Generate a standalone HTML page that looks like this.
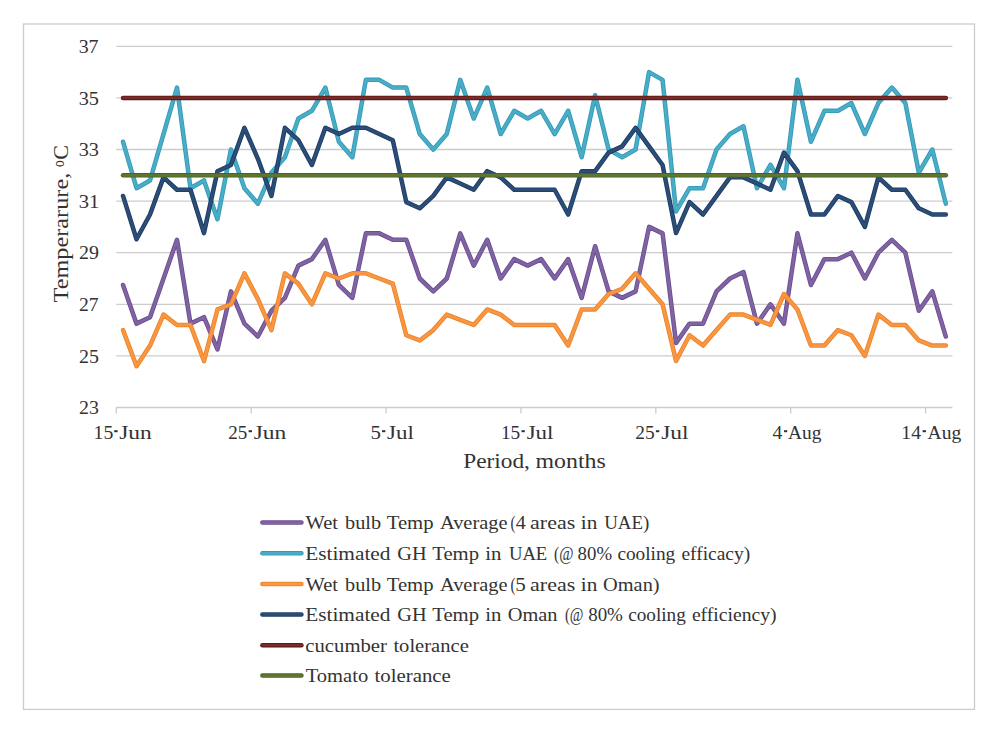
<!DOCTYPE html>
<html><head><meta charset="utf-8"><title>Chart</title>
<style>
html,body{margin:0;padding:0;background:#fff;}
body{width:1000px;height:733px;overflow:hidden;font-family:"Liberation Serif",serif;}
svg{display:block;}
text{font-family:"Liberation Serif",serif;fill:#333333;}
</style></head><body>
<svg width="1000" height="733" viewBox="0 0 1000 733">
<rect x="0" y="0" width="1000" height="733" fill="#ffffff"/>

<rect x="23.5" y="24" width="951" height="685.4" fill="#fff" stroke="#CCCCCC" stroke-width="1.3"/>
<line x1="116.3" x2="952.4" y1="355.90" y2="355.90" stroke="#CCCCCC" stroke-width="1.3"/>
<line x1="116.3" x2="952.4" y1="304.30" y2="304.30" stroke="#CCCCCC" stroke-width="1.3"/>
<line x1="116.3" x2="952.4" y1="252.70" y2="252.70" stroke="#CCCCCC" stroke-width="1.3"/>
<line x1="116.3" x2="952.4" y1="201.10" y2="201.10" stroke="#CCCCCC" stroke-width="1.3"/>
<line x1="116.3" x2="952.4" y1="149.50" y2="149.50" stroke="#CCCCCC" stroke-width="1.3"/>
<line x1="116.3" x2="952.4" y1="97.90" y2="97.90" stroke="#CCCCCC" stroke-width="1.3"/>
<line x1="116.3" x2="952.4" y1="46.30" y2="46.30" stroke="#CCCCCC" stroke-width="1.3"/>
<line x1="116.3" x2="952.4" y1="407.5" y2="407.5" stroke="#CCCCCC" stroke-width="1.3"/>
<line x1="116.30" x2="116.30" y1="407.5" y2="413.5" stroke="#CCCCCC" stroke-width="1.3"/>
<line x1="251.18" x2="251.18" y1="407.5" y2="413.5" stroke="#CCCCCC" stroke-width="1.3"/>
<line x1="386.06" x2="386.06" y1="407.5" y2="413.5" stroke="#CCCCCC" stroke-width="1.3"/>
<line x1="520.94" x2="520.94" y1="407.5" y2="413.5" stroke="#CCCCCC" stroke-width="1.3"/>
<line x1="655.82" x2="655.82" y1="407.5" y2="413.5" stroke="#CCCCCC" stroke-width="1.3"/>
<line x1="790.70" x2="790.70" y1="407.5" y2="413.5" stroke="#CCCCCC" stroke-width="1.3"/>
<line x1="925.58" x2="925.58" y1="407.5" y2="413.5" stroke="#CCCCCC" stroke-width="1.3"/>
<text transform="translate(305.50,529.40) scale(1.0766,1)" font-size="19.0">Wet</text>
<text transform="translate(345.00,529.40) scale(1.0698,1)" font-size="19.0">bulb</text>
<text transform="translate(386.68,529.40) scale(1.0926,1)" font-size="19.0">Temp</text>
<text transform="translate(440.00,529.40) scale(1.0717,1)" font-size="19.0">Average</text>
<text transform="translate(510.53,529.40) scale(0.7860,1)" font-size="19.0">(</text>
<text transform="translate(515.69,529.40) scale(1.0554,1)" font-size="19.0">4</text>
<text transform="translate(530.11,529.40) scale(1.1569,1)" font-size="19.0">areas</text>
<text transform="translate(580.87,529.40) scale(1.1186,1)" font-size="19.0">in</text>
<text transform="translate(604.20,529.40) scale(0.9957,1)" font-size="19.0">UAE)</text>
<text transform="translate(305.17,560.10) scale(1.1231,1)" font-size="19.0">Estimated</text>
<text transform="translate(397.37,560.10) scale(1.0685,1)" font-size="19.0">GH</text>
<text transform="translate(432.18,560.10) scale(1.0926,1)" font-size="19.0">Temp</text>
<text transform="translate(485.18,560.10) scale(1.0910,1)" font-size="19.0">in</text>
<text transform="translate(508.91,560.10) scale(0.9833,1)" font-size="19.0">UAE</text>
<text transform="translate(554.12,560.10) scale(0.8140,1)" font-size="19.0">(@</text>
<text transform="translate(577.61,560.10) scale(0.9913,1)" font-size="19.0">80%</text>
<text transform="translate(617.40,560.10) scale(1.0160,1)" font-size="19.0">cooling</text>
<text transform="translate(681.39,560.10) scale(1.0248,1)" font-size="19.0">efficacy)</text>
<text transform="translate(305.50,590.80) scale(1.0766,1)" font-size="19.0">Wet</text>
<text transform="translate(345.00,590.80) scale(1.0698,1)" font-size="19.0">bulb</text>
<text transform="translate(386.68,590.80) scale(1.0926,1)" font-size="19.0">Temp</text>
<text transform="translate(440.00,590.80) scale(1.0717,1)" font-size="19.0">Average</text>
<text transform="translate(510.53,590.80) scale(0.7860,1)" font-size="19.0">(</text>
<text transform="translate(515.31,590.80) scale(1.1103,1)" font-size="19.0">5</text>
<text transform="translate(530.11,590.80) scale(1.1569,1)" font-size="19.0">areas</text>
<text transform="translate(580.87,590.80) scale(1.1186,1)" font-size="19.0">in</text>
<text transform="translate(603.11,590.80) scale(1.0713,1)" font-size="19.0">Oman)</text>
<text transform="translate(305.17,621.20) scale(1.1231,1)" font-size="19.0">Estimated</text>
<text transform="translate(397.37,621.20) scale(1.0685,1)" font-size="19.0">GH</text>
<text transform="translate(432.18,621.20) scale(1.0926,1)" font-size="19.0">Temp</text>
<text transform="translate(485.18,621.20) scale(1.0910,1)" font-size="19.0">in</text>
<text transform="translate(507.76,621.20) scale(1.0733,1)" font-size="19.0">Oman</text>
<text transform="translate(564.94,621.20) scale(0.7782,1)" font-size="19.0">(@</text>
<text transform="translate(588.16,621.20) scale(0.9972,1)" font-size="19.0">80%</text>
<text transform="translate(628.15,621.20) scale(1.0116,1)" font-size="19.0">cooling</text>
<text transform="translate(691.89,621.20) scale(1.0354,1)" font-size="19.0">efficiency)</text>
<text transform="translate(305.35,652.00) scale(1.0887,1)" font-size="19.0">cucumber</text>
<text transform="translate(393.40,652.00) scale(1.0838,1)" font-size="19.0">tolerance</text>
<text transform="translate(305.68,682.40) scale(1.0830,1)" font-size="19.0">Tomato</text>
<text transform="translate(374.50,682.40) scale(1.0968,1)" font-size="19.0">tolerance</text>
<text transform="translate(93.56,438.50) scale(1.0186,1)" font-size="19.4">15</text>
<text transform="translate(119.23,438.50) scale(1.2084,1)" font-size="19.4">Jun</text>
<text transform="translate(228.20,438.50) scale(0.9842,1)" font-size="19.4">25</text>
<text transform="translate(253.63,438.50) scale(1.2084,1)" font-size="19.4">Jun</text>
<text transform="translate(370.62,438.50) scale(1.0752,1)" font-size="19.4">5</text>
<text transform="translate(386.94,438.50) scale(1.1855,1)" font-size="19.4">Jul</text>
<text transform="translate(500.89,438.50) scale(0.9955,1)" font-size="19.4">15</text>
<text transform="translate(526.64,438.50) scale(1.1855,1)" font-size="19.4">Jul</text>
<text transform="translate(635.19,438.50) scale(1.0007,1)" font-size="19.4">25</text>
<text transform="translate(661.23,438.50) scale(1.2082,1)" font-size="19.4">Jul</text>
<text transform="translate(772.59,438.50) scale(1.0117,1)" font-size="19.4">4</text>
<text transform="translate(788.00,438.50) scale(1.0028,1)" font-size="19.4">Aug</text>
<text transform="translate(901.37,438.50) scale(1.0124,1)" font-size="19.4">14</text>
<text transform="translate(927.60,438.50) scale(1.0089,1)" font-size="19.4">Aug</text>
<text transform="translate(78.98,414.10) scale(1.0282,1)" font-size="19.4">23</text>
<text transform="translate(78.98,362.50) scale(1.0282,1)" font-size="19.4">25</text>
<text transform="translate(78.99,310.90) scale(1.0113,1)" font-size="19.4">27</text>
<text transform="translate(78.98,259.30) scale(1.0282,1)" font-size="19.4">29</text>
<text transform="translate(78.63,207.70) scale(1.0636,1)" font-size="19.4">31</text>
<text transform="translate(78.65,156.10) scale(1.0456,1)" font-size="19.4">33</text>
<text transform="translate(78.65,104.50) scale(1.0456,1)" font-size="19.4">35</text>
<text transform="translate(78.66,52.90) scale(1.0282,1)" font-size="19.4">37</text>
<text transform="translate(463.24,468.00) scale(1.1106,1)" font-size="21">Period,</text>
<text transform="translate(535.53,468.00) scale(1.1349,1)" font-size="21">months</text>
<text transform="translate(68.3,0) rotate(-90) translate(-302.48,0) scale(1.1042,1)" font-size="22">Temperarure,</text>
<text transform="translate(73.6,0) rotate(-90) translate(-166.93,0) scale(0.7758,1)" font-size="27.5">º</text>
<text transform="translate(68.3,0) rotate(-90) translate(-159.69,0) scale(1.0029,1)" font-size="22">C</text>
<rect x="114.20" y="430.2" width="3.40" height="2.0" fill="#333333"/>
<rect x="248.60" y="430.2" width="3.40" height="2.0" fill="#333333"/>
<rect x="382.00" y="430.2" width="3.40" height="2.0" fill="#333333"/>
<rect x="521.50" y="430.2" width="3.30" height="2.0" fill="#333333"/>
<rect x="655.90" y="430.2" width="3.40" height="2.0" fill="#333333"/>
<rect x="784.00" y="430.2" width="3.20" height="2.0" fill="#333333"/>
<rect x="922.60" y="430.2" width="3.40" height="2.0" fill="#333333"/>
<polyline points="123.04,284.95 136.53,323.65 150.02,317.20 163.51,278.50 177.00,239.80 190.48,323.65 203.97,317.20 217.46,349.45 230.95,291.40 244.44,323.65 257.92,336.55 271.41,310.75 284.90,297.85 298.39,265.60 311.88,259.15 325.36,239.80 338.85,284.95 352.34,297.85 365.83,233.35 379.32,233.35 392.80,239.80 406.29,239.80 419.78,278.50 433.27,291.40 446.76,278.50 460.24,233.35 473.73,265.60 487.22,239.80 500.71,278.50 514.20,259.15 527.68,265.60 541.17,259.15 554.66,278.50 568.15,259.15 581.64,297.85 595.12,246.25 608.61,291.40 622.10,297.85 635.59,291.40 649.08,226.90 662.56,233.35 676.05,343.00 689.54,323.65 703.03,323.65 716.52,291.40 730.00,278.50 743.49,272.05 756.98,323.65 770.47,304.30 783.96,323.65 797.44,233.35 810.93,284.95 824.42,259.15 837.91,259.15 851.40,252.70 864.88,278.50 878.37,252.70 891.86,239.80 905.35,252.70 918.84,310.75 932.32,291.40 945.81,336.55" fill="none" stroke="#6B4C93" stroke-width="4.5" stroke-linecap="round" stroke-linejoin="round"/><polyline points="123.04,284.95 136.53,323.65 150.02,317.20 163.51,278.50 177.00,239.80 190.48,323.65 203.97,317.20 217.46,349.45 230.95,291.40 244.44,323.65 257.92,336.55 271.41,310.75 284.90,297.85 298.39,265.60 311.88,259.15 325.36,239.80 338.85,284.95 352.34,297.85 365.83,233.35 379.32,233.35 392.80,239.80 406.29,239.80 419.78,278.50 433.27,291.40 446.76,278.50 460.24,233.35 473.73,265.60 487.22,239.80 500.71,278.50 514.20,259.15 527.68,265.60 541.17,259.15 554.66,278.50 568.15,259.15 581.64,297.85 595.12,246.25 608.61,291.40 622.10,297.85 635.59,291.40 649.08,226.90 662.56,233.35 676.05,343.00 689.54,323.65 703.03,323.65 716.52,291.40 730.00,278.50 743.49,272.05 756.98,323.65 770.47,304.30 783.96,323.65 797.44,233.35 810.93,284.95 824.42,259.15 837.91,259.15 851.40,252.70 864.88,278.50 878.37,252.70 891.86,239.80 905.35,252.70 918.84,310.75 932.32,291.40 945.81,336.55" fill="none" stroke="#8064A2" stroke-width="2.80" stroke-linecap="round" stroke-linejoin="round"/>
<polyline points="123.04,141.76 136.53,188.20 150.02,180.46 163.51,134.02 177.00,87.58 190.48,188.20 203.97,180.46 217.46,219.16 230.95,149.50 244.44,188.20 257.92,203.68 271.41,172.72 284.90,157.24 298.39,118.54 311.88,110.80 325.36,87.58 338.85,141.76 352.34,157.24 365.83,79.84 379.32,79.84 392.80,87.58 406.29,87.58 419.78,134.02 433.27,149.50 446.76,134.02 460.24,79.84 473.73,118.54 487.22,87.58 500.71,134.02 514.20,110.80 527.68,118.54 541.17,110.80 554.66,134.02 568.15,110.80 581.64,157.24 595.12,95.32 608.61,149.50 622.10,157.24 635.59,149.50 649.08,72.10 662.56,79.84 676.05,211.42 689.54,188.20 703.03,188.20 716.52,149.50 730.00,134.02 743.49,126.28 756.98,188.20 770.47,164.98 783.96,188.20 797.44,79.84 810.93,141.76 824.42,110.80 837.91,110.80 851.40,103.06 864.88,134.02 878.37,103.06 891.86,87.58 905.35,103.06 918.84,172.72 932.32,149.50 945.81,203.68" fill="none" stroke="#2F9BB9" stroke-width="4.5" stroke-linecap="round" stroke-linejoin="round"/><polyline points="123.04,141.76 136.53,188.20 150.02,180.46 163.51,134.02 177.00,87.58 190.48,188.20 203.97,180.46 217.46,219.16 230.95,149.50 244.44,188.20 257.92,203.68 271.41,172.72 284.90,157.24 298.39,118.54 311.88,110.80 325.36,87.58 338.85,141.76 352.34,157.24 365.83,79.84 379.32,79.84 392.80,87.58 406.29,87.58 419.78,134.02 433.27,149.50 446.76,134.02 460.24,79.84 473.73,118.54 487.22,87.58 500.71,134.02 514.20,110.80 527.68,118.54 541.17,110.80 554.66,134.02 568.15,110.80 581.64,157.24 595.12,95.32 608.61,149.50 622.10,157.24 635.59,149.50 649.08,72.10 662.56,79.84 676.05,211.42 689.54,188.20 703.03,188.20 716.52,149.50 730.00,134.02 743.49,126.28 756.98,188.20 770.47,164.98 783.96,188.20 797.44,79.84 810.93,141.76 824.42,110.80 837.91,110.80 851.40,103.06 864.88,134.02 878.37,103.06 891.86,87.58 905.35,103.06 918.84,172.72 932.32,149.50 945.81,203.68" fill="none" stroke="#4BACC6" stroke-width="2.80" stroke-linecap="round" stroke-linejoin="round"/>
<polyline points="123.04,330.10 136.53,366.22 150.02,345.58 163.51,314.62 177.00,324.94 190.48,324.94 203.97,361.06 217.46,309.46 230.95,304.30 244.44,273.34 257.92,299.14 271.41,330.10 284.90,273.34 298.39,283.66 311.88,304.30 325.36,273.34 338.85,278.50 352.34,273.34 365.83,273.34 379.32,278.50 392.80,283.66 406.29,335.26 419.78,340.42 433.27,330.10 446.76,314.62 460.24,319.78 473.73,324.94 487.22,309.46 500.71,314.62 514.20,324.94 527.68,324.94 541.17,324.94 554.66,324.94 568.15,345.58 581.64,309.46 595.12,309.46 608.61,293.98 622.10,288.82 635.59,273.34 649.08,288.82 662.56,304.30 676.05,361.06 689.54,335.26 703.03,345.58 716.52,330.10 730.00,314.62 743.49,314.62 756.98,319.78 770.47,324.94 783.96,293.98 797.44,309.46 810.93,345.58 824.42,345.58 837.91,330.10 851.40,335.26 864.88,355.90 878.37,314.62 891.86,324.94 905.35,324.94 918.84,340.42 932.32,345.58 945.81,345.58" fill="none" stroke="#F0831F" stroke-width="4.5" stroke-linecap="round" stroke-linejoin="round"/><polyline points="123.04,330.10 136.53,366.22 150.02,345.58 163.51,314.62 177.00,324.94 190.48,324.94 203.97,361.06 217.46,309.46 230.95,304.30 244.44,273.34 257.92,299.14 271.41,330.10 284.90,273.34 298.39,283.66 311.88,304.30 325.36,273.34 338.85,278.50 352.34,273.34 365.83,273.34 379.32,278.50 392.80,283.66 406.29,335.26 419.78,340.42 433.27,330.10 446.76,314.62 460.24,319.78 473.73,324.94 487.22,309.46 500.71,314.62 514.20,324.94 527.68,324.94 541.17,324.94 554.66,324.94 568.15,345.58 581.64,309.46 595.12,309.46 608.61,293.98 622.10,288.82 635.59,273.34 649.08,288.82 662.56,304.30 676.05,361.06 689.54,335.26 703.03,345.58 716.52,330.10 730.00,314.62 743.49,314.62 756.98,319.78 770.47,324.94 783.96,293.98 797.44,309.46 810.93,345.58 824.42,345.58 837.91,330.10 851.40,335.26 864.88,355.90 878.37,314.62 891.86,324.94 905.35,324.94 918.84,340.42 932.32,345.58 945.81,345.58" fill="none" stroke="#F79646" stroke-width="2.80" stroke-linecap="round" stroke-linejoin="round"/>
<polyline points="123.04,195.94 136.53,239.28 150.02,214.52 163.51,177.36 177.00,189.75 190.48,189.75 203.97,233.09 217.46,171.17 230.95,164.98 244.44,127.83 257.92,158.79 271.41,195.94 284.90,127.83 298.39,140.21 311.88,164.98 325.36,127.83 338.85,134.02 352.34,127.83 365.83,127.83 379.32,134.02 392.80,140.21 406.29,202.13 419.78,208.32 433.27,195.94 446.76,177.36 460.24,183.56 473.73,189.75 487.22,171.17 500.71,177.36 514.20,189.75 527.68,189.75 541.17,189.75 554.66,189.75 568.15,214.52 581.64,171.17 595.12,171.17 608.61,152.60 622.10,146.40 635.59,127.83 649.08,146.40 662.56,164.98 676.05,233.09 689.54,202.13 703.03,214.52 716.52,195.94 730.00,177.36 743.49,177.36 756.98,183.56 770.47,189.75 783.96,152.60 797.44,171.17 810.93,214.52 824.42,214.52 837.91,195.94 851.40,202.13 864.88,226.90 878.37,177.36 891.86,189.75 905.35,189.75 918.84,208.32 932.32,214.52 945.81,214.52" fill="none" stroke="#1B3C66" stroke-width="4.5" stroke-linecap="round" stroke-linejoin="round"/><polyline points="123.04,195.94 136.53,239.28 150.02,214.52 163.51,177.36 177.00,189.75 190.48,189.75 203.97,233.09 217.46,171.17 230.95,164.98 244.44,127.83 257.92,158.79 271.41,195.94 284.90,127.83 298.39,140.21 311.88,164.98 325.36,127.83 338.85,134.02 352.34,127.83 365.83,127.83 379.32,134.02 392.80,140.21 406.29,202.13 419.78,208.32 433.27,195.94 446.76,177.36 460.24,183.56 473.73,189.75 487.22,171.17 500.71,177.36 514.20,189.75 527.68,189.75 541.17,189.75 554.66,189.75 568.15,214.52 581.64,171.17 595.12,171.17 608.61,152.60 622.10,146.40 635.59,127.83 649.08,146.40 662.56,164.98 676.05,233.09 689.54,202.13 703.03,214.52 716.52,195.94 730.00,177.36 743.49,177.36 756.98,183.56 770.47,189.75 783.96,152.60 797.44,171.17 810.93,214.52 824.42,214.52 837.91,195.94 851.40,202.13 864.88,226.90 878.37,177.36 891.86,189.75 905.35,189.75 918.84,208.32 932.32,214.52 945.81,214.52" fill="none" stroke="#2C4D75" stroke-width="2.80" stroke-linecap="round" stroke-linejoin="round"/>
<polyline points="123.04,97.90 136.53,97.90 150.02,97.90 163.51,97.90 177.00,97.90 190.48,97.90 203.97,97.90 217.46,97.90 230.95,97.90 244.44,97.90 257.92,97.90 271.41,97.90 284.90,97.90 298.39,97.90 311.88,97.90 325.36,97.90 338.85,97.90 352.34,97.90 365.83,97.90 379.32,97.90 392.80,97.90 406.29,97.90 419.78,97.90 433.27,97.90 446.76,97.90 460.24,97.90 473.73,97.90 487.22,97.90 500.71,97.90 514.20,97.90 527.68,97.90 541.17,97.90 554.66,97.90 568.15,97.90 581.64,97.90 595.12,97.90 608.61,97.90 622.10,97.90 635.59,97.90 649.08,97.90 662.56,97.90 676.05,97.90 689.54,97.90 703.03,97.90 716.52,97.90 730.00,97.90 743.49,97.90 756.98,97.90 770.47,97.90 783.96,97.90 797.44,97.90 810.93,97.90 824.42,97.90 837.91,97.90 851.40,97.90 864.88,97.90 878.37,97.90 891.86,97.90 905.35,97.90 918.84,97.90 932.32,97.90 945.81,97.90" fill="none" stroke="#5E1211" stroke-width="4.5" stroke-linecap="round" stroke-linejoin="round"/><polyline points="123.04,97.90 136.53,97.90 150.02,97.90 163.51,97.90 177.00,97.90 190.48,97.90 203.97,97.90 217.46,97.90 230.95,97.90 244.44,97.90 257.92,97.90 271.41,97.90 284.90,97.90 298.39,97.90 311.88,97.90 325.36,97.90 338.85,97.90 352.34,97.90 365.83,97.90 379.32,97.90 392.80,97.90 406.29,97.90 419.78,97.90 433.27,97.90 446.76,97.90 460.24,97.90 473.73,97.90 487.22,97.90 500.71,97.90 514.20,97.90 527.68,97.90 541.17,97.90 554.66,97.90 568.15,97.90 581.64,97.90 595.12,97.90 608.61,97.90 622.10,97.90 635.59,97.90 649.08,97.90 662.56,97.90 676.05,97.90 689.54,97.90 703.03,97.90 716.52,97.90 730.00,97.90 743.49,97.90 756.98,97.90 770.47,97.90 783.96,97.90 797.44,97.90 810.93,97.90 824.42,97.90 837.91,97.90 851.40,97.90 864.88,97.90 878.37,97.90 891.86,97.90 905.35,97.90 918.84,97.90 932.32,97.90 945.81,97.90" fill="none" stroke="#772C2A" stroke-width="2.80" stroke-linecap="round" stroke-linejoin="round"/>
<polyline points="123.04,175.30 136.53,175.30 150.02,175.30 163.51,175.30 177.00,175.30 190.48,175.30 203.97,175.30 217.46,175.30 230.95,175.30 244.44,175.30 257.92,175.30 271.41,175.30 284.90,175.30 298.39,175.30 311.88,175.30 325.36,175.30 338.85,175.30 352.34,175.30 365.83,175.30 379.32,175.30 392.80,175.30 406.29,175.30 419.78,175.30 433.27,175.30 446.76,175.30 460.24,175.30 473.73,175.30 487.22,175.30 500.71,175.30 514.20,175.30 527.68,175.30 541.17,175.30 554.66,175.30 568.15,175.30 581.64,175.30 595.12,175.30 608.61,175.30 622.10,175.30 635.59,175.30 649.08,175.30 662.56,175.30 676.05,175.30 689.54,175.30 703.03,175.30 716.52,175.30 730.00,175.30 743.49,175.30 756.98,175.30 770.47,175.30 783.96,175.30 797.44,175.30 810.93,175.30 824.42,175.30 837.91,175.30 851.40,175.30 864.88,175.30 878.37,175.30 891.86,175.30 905.35,175.30 918.84,175.30 932.32,175.30 945.81,175.30" fill="none" stroke="#4B6320" stroke-width="4.5" stroke-linecap="round" stroke-linejoin="round"/><polyline points="123.04,175.30 136.53,175.30 150.02,175.30 163.51,175.30 177.00,175.30 190.48,175.30 203.97,175.30 217.46,175.30 230.95,175.30 244.44,175.30 257.92,175.30 271.41,175.30 284.90,175.30 298.39,175.30 311.88,175.30 325.36,175.30 338.85,175.30 352.34,175.30 365.83,175.30 379.32,175.30 392.80,175.30 406.29,175.30 419.78,175.30 433.27,175.30 446.76,175.30 460.24,175.30 473.73,175.30 487.22,175.30 500.71,175.30 514.20,175.30 527.68,175.30 541.17,175.30 554.66,175.30 568.15,175.30 581.64,175.30 595.12,175.30 608.61,175.30 622.10,175.30 635.59,175.30 649.08,175.30 662.56,175.30 676.05,175.30 689.54,175.30 703.03,175.30 716.52,175.30 730.00,175.30 743.49,175.30 756.98,175.30 770.47,175.30 783.96,175.30 797.44,175.30 810.93,175.30 824.42,175.30 837.91,175.30 851.40,175.30 864.88,175.30 878.37,175.30 891.86,175.30 905.35,175.30 918.84,175.30 932.32,175.30 945.81,175.30" fill="none" stroke="#5F7530" stroke-width="2.80" stroke-linecap="round" stroke-linejoin="round"/>
<line x1="262.4" x2="301.4" y1="522.6" y2="522.6" stroke="#6B4C93" stroke-width="4.5" stroke-linecap="round"/>
<line x1="262.4" x2="301.4" y1="522.6" y2="522.6" stroke="#8064A2" stroke-width="2.80" stroke-linecap="round"/>
<line x1="262.4" x2="301.4" y1="553.3" y2="553.3" stroke="#2F9BB9" stroke-width="4.5" stroke-linecap="round"/>
<line x1="262.4" x2="301.4" y1="553.3" y2="553.3" stroke="#4BACC6" stroke-width="2.80" stroke-linecap="round"/>
<line x1="262.4" x2="301.4" y1="584.0" y2="584.0" stroke="#F0831F" stroke-width="4.5" stroke-linecap="round"/>
<line x1="262.4" x2="301.4" y1="584.0" y2="584.0" stroke="#F79646" stroke-width="2.80" stroke-linecap="round"/>
<line x1="262.4" x2="301.4" y1="614.4" y2="614.4" stroke="#1B3C66" stroke-width="4.5" stroke-linecap="round"/>
<line x1="262.4" x2="301.4" y1="614.4" y2="614.4" stroke="#2C4D75" stroke-width="2.80" stroke-linecap="round"/>
<line x1="262.4" x2="301.4" y1="645.2" y2="645.2" stroke="#5E1211" stroke-width="4.5" stroke-linecap="round"/>
<line x1="262.4" x2="301.4" y1="645.2" y2="645.2" stroke="#772C2A" stroke-width="2.80" stroke-linecap="round"/>
<line x1="262.4" x2="301.4" y1="675.6" y2="675.6" stroke="#4B6320" stroke-width="4.5" stroke-linecap="round"/>
<line x1="262.4" x2="301.4" y1="675.6" y2="675.6" stroke="#5F7530" stroke-width="2.80" stroke-linecap="round"/>
</svg></body></html>
